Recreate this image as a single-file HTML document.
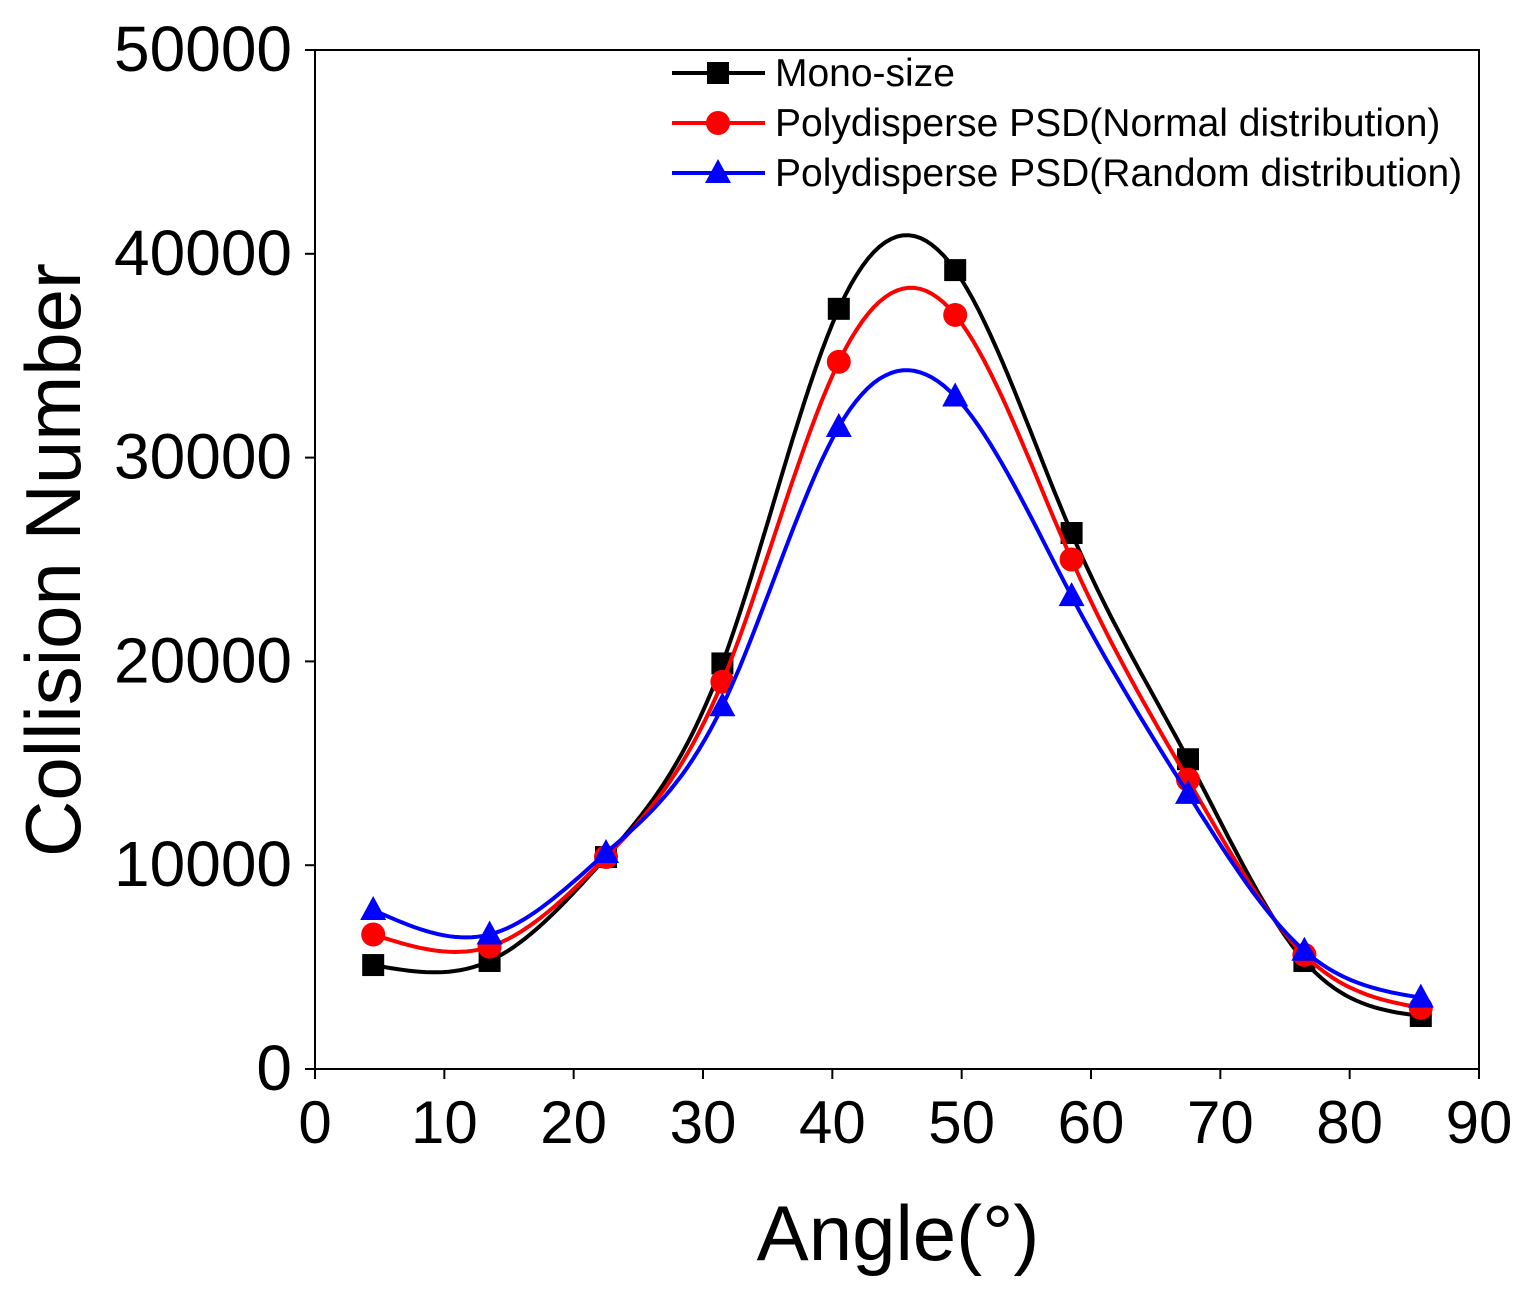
<!DOCTYPE html>
<html><head><meta charset="utf-8"><style>
body{margin:0;background:#fff;}
svg{display:block;font-family:"Liberation Sans",Arial,sans-serif;}
</style></head><body>
<svg id="chart" width="1533" height="1297">
<g id="axes"></g><g id="series"></g><g id="legend"></g>
</svg>
<script>
const angles=[4.5,13.5,22.5,31.5,40.5,49.5,58.5,67.5,76.5,85.5];
const monoVals=[5100,5300,10400,19900,37300,39200,26300,15200,5300,2600];
const normalVals=[6600,6000,10400,19000,34700,37000,25000,14200,5600,3000];
const randomVals=[7800,6600,10600,17800,31500,33000,23200,13500,5800,3500];
const xTicks=[0,10,20,30,40,50,60,70,80,90];
const yTicks=[0,10000,20000,30000,40000,50000];
const seriesNames=["Mono-size","Polydisperse PSD(Normal distribution)","Polydisperse PSD(Random distribution)"];

const X0=315,X1=1479,Y0=1069,Y1=50;
const sx=v=>X0+(v-0)/(90-0)*(X1-X0);
const sy=v=>Y0-(v/50000)*(Y0-Y1);
const NS="http://www.w3.org/2000/svg";
function mk(t,a,p){const e=document.createElementNS(NS,t);for(const k in a)e.setAttribute(k,a[k]);p.appendChild(e);return e;}
const axes=document.getElementById('axes');
const frame=mk('rect',{x:X0,y:Y1,width:X1-X0,height:Y0-Y1,fill:'none',stroke:'#000','stroke-width':2},axes);


xTicks.forEach(t=>{
  const x=sx(t);
  const l=mk('line',{x1:x,x2:x,y1:Y0,y2:Y0+10,stroke:'#000','stroke-width':2},axes);
  
  
  const tx=mk('text',{x:x,y:1143,'text-anchor':'middle','font-size':60},axes);
  tx.textContent=t;
  
  
});
yTicks.forEach(t=>{
  const y=sy(t);
  const l=mk('line',{x1:X0-10,x2:X0,y1:y,y2:y,stroke:'#000','stroke-width':2},axes);
  
  
  const tx=mk('text',{x:292,y:y+21,'text-anchor':'end','font-size':64},axes);
  tx.textContent=t;
  
  
});
const xt=mk('text',{x:898,y:1260,'text-anchor':'middle','font-size':78},axes);
xt.textContent="Angle(°)";


const yt=mk('text',{x:0,y:0,'text-anchor':'middle','font-size':78,transform:'translate(80,560) rotate(-90)'},axes);
yt.textContent="Collision Number";



function spline(xs,ys){
  const n=xs.length,h=[],al=[],l=[1],mu=[0],z=[0],c=new Array(n).fill(0),b=[],d=[];
  for(let i=0;i<n-1;i++)h.push(xs[i+1]-xs[i]);
  for(let i=1;i<n-1;i++)al[i]=3/h[i]*(ys[i+1]-ys[i])-3/h[i-1]*(ys[i]-ys[i-1]);
  for(let i=1;i<n-1;i++){l[i]=2*(xs[i+1]-xs[i-1])-h[i-1]*mu[i-1];mu[i]=h[i]/l[i];z[i]=(al[i]-h[i-1]*z[i-1])/l[i];}
  l[n-1]=1;z[n-1]=0;
  for(let j=n-2;j>=0;j--){c[j]=z[j]-mu[j]*c[j+1];b[j]=(ys[j+1]-ys[j])/h[j]-h[j]*(c[j+1]+2*c[j])/3;d[j]=(c[j+1]-c[j])/(3*h[j]);}
  const pts=[];
  for(let i=0;i<n-1;i++)for(let k=0;k<20;k++){const t=h[i]*k/20;pts.push([xs[i]+t,ys[i]+b[i]*t+c[i]*t*t+d[i]*t*t*t]);}
  pts.push([xs[n-1],ys[n-1]]);return pts;
}
function marker(type,x,y,col,p){
  let e;
  if(type==0)e=mk('rect',{x:x-11,y:y-11,width:22,height:22,fill:col},p);
  else if(type==1)e=mk('circle',{cx:x,cy:y,r:12,fill:col},p);
  else e=mk('polygon',{points:`${x},${y-14} ${x+13},${y+10} ${x-13},${y+10}`,fill:col},p);
  return e;
}
const colors=["#000","#f00","#00f"];
const data=[monoVals,normalVals,randomVals];
const ser=document.getElementById('series');
data.forEach((vals,si)=>{
  const g=mk('g',{},ser);
  
  
  const pts=spline(angles,vals);
  const path=mk('path',{d:'M'+pts.map(p=>sx(p[0]).toFixed(1)+','+sy(p[1]).toFixed(1)).join('L'),fill:'none',stroke:colors[si],'stroke-width':4},g);
  
  
  vals.forEach((v,i)=>{
    const m=marker(si,sx(angles[i]),sy(v),colors[si],g);
    
    
  });
});
const leg=document.getElementById('legend');
seriesNames.forEach((nm,i)=>{
  const y=73+i*50;
  const g=mk('g',{},leg);
  
  
  mk('line',{x1:672,x2:765,y1:y,y2:y,stroke:colors[i],'stroke-width':4},g);
  marker(i,718,y,colors[i],g);
  const t=mk('text',{x:775,y:y+13,'font-size':39},g);
  t.textContent=nm;
});
</script>
</body></html>
